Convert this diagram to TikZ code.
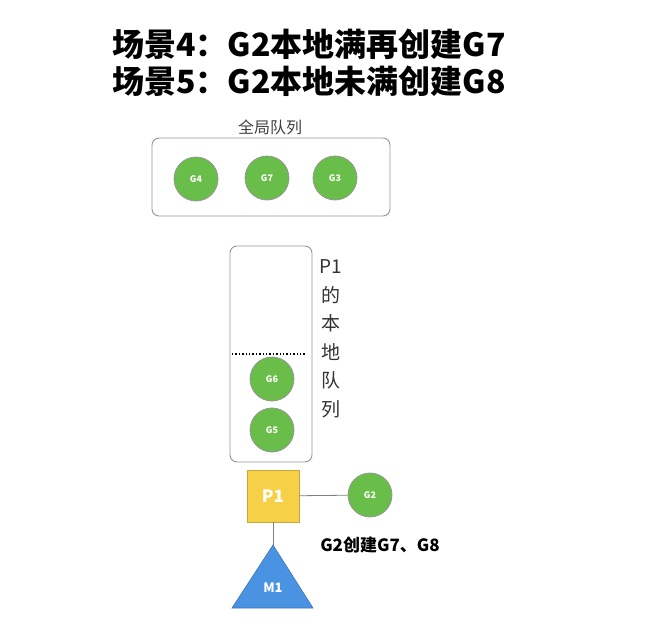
\documentclass[tikz,border=0pt]{standalone}
\usepackage{fontspec}
\setmainfont{Noto Sans CJK SC}
\usepackage{xcolor}
\usepackage{tikz}

\definecolor{gogreen}{RGB}{104,190,72}
\definecolor{pyellow}{RGB}{246,209,72}
\definecolor{mblue}{RGB}{74,146,226}
\definecolor{boxgray}{RGB}{150,150,150}

\tikzset{
  gor/.style={circle,draw=boxgray,fill=gogreen,line width=0.8pt,minimum size=44pt,
    inner sep=0pt,text=white,font=\fontsize{9}{9}\selectfont\bfseries},
  queue/.style={draw=boxgray,rounded corners=7pt,line width=0.9pt},
  title/.style={font=\fontsize{32}{34}\selectfont\bfseries},
  link/.style={draw=gray,line width=0.8pt},
}

\begin{document}
\begin{tikzpicture}[x=1pt,y=-1pt]
\useasboundingbox (0,0) rectangle (654,624);

    % titles
    \node[title] (t1) at (309,44) {场景4：G2本地满再创建G7};
    \node[title] (t2) at (309,81) {场景5：G2本地未满创建G8};

    % global queue
    \node[font=\fontsize{16}{16}\selectfont,text=black!75] (glabel) at (270,127) {全局队列};
    \draw[queue] (152,138) rectangle (390,216);
    \node[gor] (g4) at (196,179) {G4};
    \node[gor] (g7) at (267,178) {G7};
    \node[gor] (g3) at (335,178) {G3};

    % local queue of P1
    \draw[queue] (230,246) rectangle (312,462);
    \draw[black,line width=1.4pt,dotted] (232,354) -- (306,354);
    \node[gor] (g6) at (272,379) {G6};
    \node[gor] (g5) at (272,430) {G5};
    \node[font=\fontsize{19}{28.5}\selectfont,align=center,text=black!80] (llabel) at (331,339)
        {P1\\的\\本\\地\\队\\列};

    % P, G, M
    \node[draw=pyellow!80!black,fill=pyellow,line width=0.8pt,minimum size=52pt,inner sep=0pt,
        text=white,font=\fontsize{17}{17}\selectfont\bfseries] (p1) at (273,496) {P1};
    \node[gor] (g2) at (370,495) {G2};
    \draw[link] (p1) -- (g2);
    \node[font=\fontsize{17}{17}\selectfont\bfseries] (note) at (380,545) {G2创建G7、G8};

    \coordinate (mtop) at (273,545);
    \coordinate (mleft) at (232,608);
    \coordinate (mright) at (313,608);
    \draw[link] (p1) -- (mtop);
    \filldraw[fill=mblue,draw=mblue!80!black,line width=0.6pt] (mtop) -- (mleft) -- (mright) -- cycle;
    \node[text=white,font=\fontsize{13}{13}\selectfont\bfseries] (m1) at (273,588) {M1};

\end{tikzpicture}
\end{document}
